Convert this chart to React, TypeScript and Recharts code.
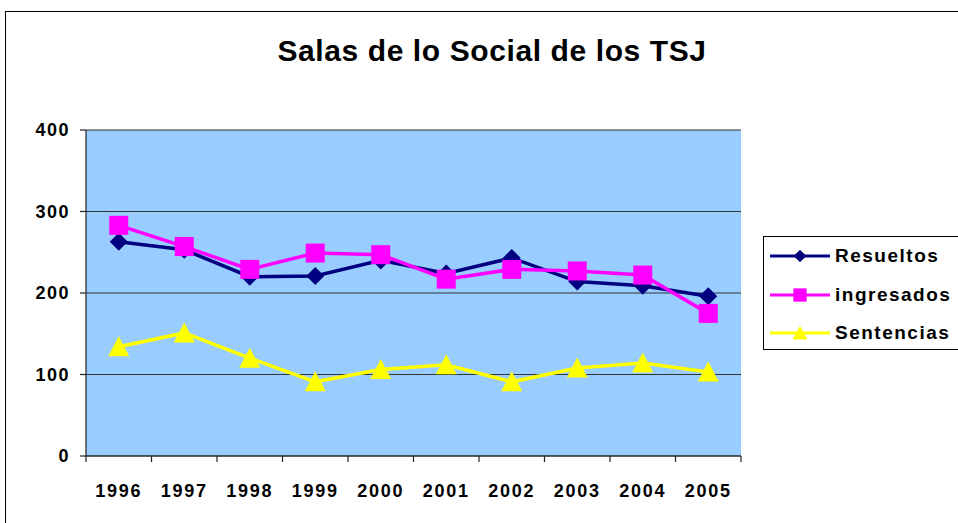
import { LineChart, Line, XAxis, YAxis, CartesianGrid, Legend } from 'recharts'

const years = [1996, 1997, 1998, 1999, 2000, 2001, 2002, 2003, 2004, 2005]
const resueltos = [263, 253, 220, 221, 240, 224, 243, 214, 209, 196]
const ingresados = [283, 257, 229, 249, 247, 217, 229, 227, 222, 175]
const sentencias = [134, 151, 120, 91, 106, 112, 91, 108, 114, 103]
const yTicks = [0, 100, 200, 300, 400]
const bounds = [1995.5, 1996.5, 1997.5, 1998.5, 1999.5, 2000.5, 2001.5, 2002.5, 2003.5, 2004.5, 2005.5]

const data = years.map((y, i) => ({
  year: y,
  Resueltos: resueltos[i],
  ingresados: ingresados[i],
  Sentencias: sentencias[i],
}))

// axis 0 draws the tick marks between years, axis 1 the year labels
const series = [
  { key: 'Resueltos', color: '#000080', shape: 'diamond', axis: 1 },
  { key: 'ingresados', color: '#FF00FF', shape: 'square', axis: 1 },
  { key: 'Sentencias', color: '#FFFF00', shape: 'triangle', axis: 0 },
]

const FONT = 'Arial, "Liberation Sans", sans-serif'

function Marker({ cx, cy, shape, color, s = 1 }: any) {
  if (cx == null || cy == null) return null
  if (shape === 'diamond') {
    const r = 9 * s
    return <polygon points={`${cx},${cy - r} ${cx + r},${cy} ${cx},${cy + r} ${cx - r},${cy}`} fill={color} />
  }
  if (shape === 'square') {
    const r = 9.5 * s
    return <rect x={cx - r} y={cy - r} width={2 * r} height={2 * r} fill={color} />
  }
  const r = 10.5 * s
  return <polygon points={`${cx},${cy - r} ${cx + r},${cy + r * 0.9} ${cx - r},${cy + r * 0.9}`} fill={color} />
}

function LegendBox() {
  return (
    <div style={{ border: '1px solid #000', background: '#fff', width: 200, height: 114, boxSizing: 'border-box' }}>
      {series.map((s) => (
        <div key={s.key} style={{ display: 'flex', alignItems: 'center', height: 38.5 }}>
          <svg width={66} height={20} style={{ marginLeft: 4 }}>
            <line x1={2} y1={10} x2={62} y2={10} stroke={s.color} strokeWidth={3} />
            <Marker cx={32} cy={10} shape={s.shape} color={s.color} s={0.7} />
          </svg>
          <span style={{ fontFamily: FONT, fontWeight: 'bold', fontSize: 19, letterSpacing: 1.5, color: '#000', marginLeft: 1 }}>{s.key}</span>
        </div>
      ))}
    </div>
  )
}

export default function App() {
  return (
    <div style={{ position: 'absolute', left: 0, top: 0, width: 958, height: 523, background: '#fff', overflow: 'hidden' }}>
      <div style={{ position: 'absolute', left: 5, top: 11, width: 1000, height: 600, border: '1px solid #000' }} />
      <div
        style={{
          position: 'absolute', left: 0, top: 34, width: 984, textAlign: 'center',
          fontFamily: FONT, fontWeight: 'bold', fontSize: 30, letterSpacing: 0.6, color: '#000',
        }}
      >
        Salas de lo Social de los TSJ
      </div>
      <div style={{ position: 'absolute', left: 0, top: 0 }}>
        <LineChart width={958} height={523} data={data} margin={{ top: 130, right: 217, bottom: 0, left: 0 }}>
          <CartesianGrid xAxisId={1} vertical={false} fill="#99CCFF" stroke="#333" strokeWidth={1.2} />
          <XAxis
            xAxisId={0}
            dataKey="year"
            type="number"
            domain={[1995.5, 2005.5]}
            ticks={bounds}
            interval={0}
            tick={() => <g />}
            height={1}
            axisLine={{ stroke: '#222', strokeWidth: 1.2 }}
            tickLine={{ stroke: '#222', strokeWidth: 1.2 }}
            tickSize={6}
          />
          <XAxis
            xAxisId={1}
            dataKey="year"
            type="number"
            domain={[1995.5, 2005.5]}
            ticks={years}
            interval={0}
            axisLine={false}
            tickLine={false}
            height={66}
            tickMargin={21}
            tick={{ fontFamily: FONT, fontWeight: 'bold', fontSize: 18, fill: '#000', letterSpacing: 1.8 }}
          />
          <YAxis
            domain={[0, 400]}
            ticks={yTicks}
            width={86}
            axisLine={{ stroke: '#222', strokeWidth: 1.2 }}
            tickLine={{ stroke: '#222', strokeWidth: 1.2 }}
            tickSize={6}
            tickMargin={10}
            tick={{ fontFamily: FONT, fontWeight: 'bold', fontSize: 18, fill: '#000', letterSpacing: 1.5 }}
          />
          <YAxis
            yAxisId="right"
            orientation="right"
            domain={[0, 400]}
            width={0}
            tick={false}
            tickLine={false}
            axisLine={{ stroke: '#888', strokeWidth: 1.5 }}
          />
          {series.map((s) => (
            <Line
              key={s.key}
              xAxisId={s.axis}
              dataKey={s.key}
              stroke={s.color}
              strokeWidth={3.5}
              isAnimationActive={false}
              dot={(p: any) => <Marker key={`${s.key}-${p.index}`} cx={p.cx} cy={p.cy} shape={s.shape} color={s.color} />}
              activeDot={false}
            />
          ))}
          <Legend
            layout="vertical"
            align="center"
            verticalAlign="middle"
            content={() => <LegendBox />}
            wrapperStyle={{ position: 'absolute', left: 763, top: 236, width: 200 }}
          />
        </LineChart>
      </div>
    </div>
  )
}
